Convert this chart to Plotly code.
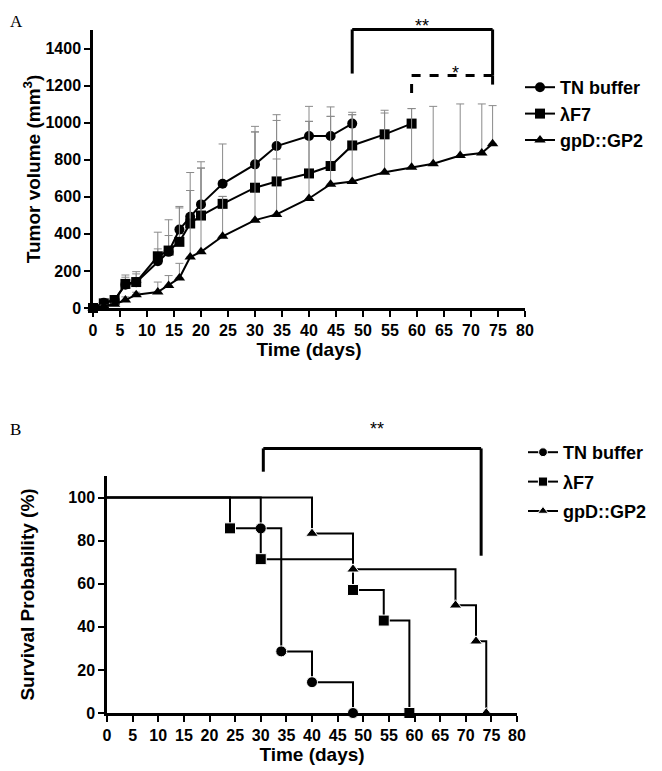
import plotly.graph_objects as go

# Panel A: tumor volume, mean with upper error bar (top of bar stored)
tn_days = [0, 2, 4, 6, 8, 12, 14, 16, 18, 20, 24, 30, 34, 40, 44, 48]
tn_vol = [0, 29, 43, 126, 139, 252, 303, 423, 492, 559, 670, 775, 874, 928, 928, 995]
tn_top = [0, 35, 50, 178, 184, 319, 391, 548, 634, 755, 885, 950, 1012, 1007, 1034, 1056]

f7_days = [0, 2, 4, 6, 8, 12, 14, 16, 18, 20, 24, 30, 34, 40, 44, 48, 54, 59]
f7_vol = [0, 25, 43, 130, 140, 279, 310, 357, 456, 499, 562, 649, 683, 726, 766, 877, 937, 995]
f7_top = [0, 30, 50, 166, 196, 409, 476, 540, 731, 789, 602, 980, 1043, 1088, 1085, 1043, 1067, 1076]

gp2_days = [0, 2, 4, 6, 8, 12, 14, 16, 18, 20, 24, 30, 34, 40, 44, 48, 54, 59, 63, 68, 72, 74]
gp2_vol = [0, 10, 20, 43, 72, 86, 122, 162, 275, 303, 387, 474, 505, 591, 668, 683, 733, 760, 778, 823, 836, 886]
gp2_top = [0, 15, 25, 60, 85, 140, 175, 241, 634, 755, 602, 950, 804, 1007, 1034, 1043, 1052, 1076, 1088, 1101, 1101, 1092]

# Panel B: Kaplan-Meier survival
tn_t = [0, 30, 34, 40, 48]
tn_s = [100, 85.7, 28.6, 14.3, 0]
f7_t = [0, 24, 30, 48, 54, 59]
f7_s = [100, 85.7, 71.4, 57.1, 42.9, 0]
gp2_t = [0, 40, 48, 68, 72, 74]
gp2_s = [100, 83.3, 66.7, 50, 33.3, 0]

names = ["TN buffer", "\u03bbF7", "gpD::GP2"]
symbols = ["circle", "square", "triangle-up"]

# the page body has an 8px margin, so the figure is shifted by that much
OFF = 8
W, H = 662 - OFF, 771 - OFF
FONT = "Liberation Sans, Arial, sans-serif"


def px_x(p):
    return (p - OFF) / W


def px_y(p):
    return 1 - (p - OFF) / H


top_dom = [px_y(308), px_y(30)]
bot_dom = [px_y(713), px_y(476)]
TOP_MAX, BOT_MAX = 1500, 110


def top_y(v):
    return top_dom[0] + v / TOP_MAX * (top_dom[1] - top_dom[0])


def bot_y(v):
    return bot_dom[0] + v / BOT_MAX * (bot_dom[1] - bot_dom[0])


fig = go.Figure()

for name, sym, d, v, t in zip(names, symbols,
                              [tn_days, f7_days, gp2_days],
                              [tn_vol, f7_vol, gp2_vol],
                              [tn_top, f7_top, gp2_top]):
    err = [b - a for a, b in zip(v, t)]
    fig.add_trace(go.Scatter(
        x=d, y=v, name=name, mode="lines+markers",
        line=dict(color="black", width=2),
        marker=dict(symbol=sym, size=10, color="black"),
        error_y=dict(type="data", symmetric=False, array=err,
                     arrayminus=[0] * len(err), color="#8a8a8a",
                     thickness=1, width=4),
        cliponaxis=False, xaxis="x", yaxis="y", legend="legend",
    ))

for name, sym, t, s in zip(names, symbols, [tn_t, f7_t, gp2_t], [tn_s, f7_s, gp2_s]):
    fig.add_trace(go.Scatter(
        x=t, y=s, name=name, mode="lines+markers",
        line=dict(color="black", width=2, shape="hv"),
        marker=dict(symbol=sym, size=[0] + [11] * (len(t) - 1), color="black", opacity=1),
        cliponaxis=False, xaxis="x2", yaxis="y2", legend="legend2",
        legendgroup=name,
    ))

axis_common = dict(
    showline=True, linecolor="black", linewidth=2.5,
    ticks="outside", ticklen=6, tickwidth=2, tickcolor="black",
    showgrid=False, zeroline=False, automargin=False,
    tickfont=dict(family=FONT, size=16, color="black", weight="bold"),
)
title_font = dict(family=FONT, size=19, color="black", weight="bold")

fig.update_layout(
    width=W, height=H,
    margin=dict(l=0, r=0, t=0, b=0, autoexpand=False),
    paper_bgcolor="white", plot_bgcolor="white",
    xaxis=dict(domain=[px_x(93), px_x(525)], range=[0, 80], dtick=5,
               anchor="y", title=dict(text="Time (days)", font=title_font, standoff=2),
               **axis_common),
    yaxis=dict(domain=top_dom, range=[0, TOP_MAX], dtick=200, anchor="x",
               title=dict(text="Tumor volume (mm<sup>3</sup>)", font=title_font, standoff=0),
               **axis_common),
    xaxis2=dict(domain=[px_x(107), px_x(517)], range=[0, 80], dtick=5,
                anchor="y2", title=dict(text="Time (days)", font=title_font, standoff=0),
                **axis_common),
    yaxis2=dict(domain=bot_dom, range=[0, BOT_MAX], dtick=20, anchor="x2",
                title=dict(text="Survival Probability (%)", font=title_font, standoff=29),
                **axis_common),
    legend=dict(x=px_x(520), y=px_y(69), xanchor="left", yanchor="top",
                font=dict(family=FONT, size=18, color="black", weight="bold"),
                bgcolor="rgba(0,0,0,0)"),
    legend2=dict(x=px_x(523), y=px_y(434), xanchor="left", yanchor="top",
                 traceorder="grouped", tracegroupgap=3,
                 font=dict(family=FONT, size=18, color="black", weight="bold"),
                 bgcolor="rgba(0,0,0,0)"),
    showlegend=True,
)

# significance brackets
solid = dict(color="black", width=3)
dashed = dict(color="black", width=3, dash="dash")
shapes = [
    # panel A, ** (TN buffer vs gpD::GP2)
    dict(type="line", xref="x", yref="paper", x0=48, x1=48, y0=top_y(1265), y1=top_y(1503), line=solid),
    dict(type="line", xref="x", yref="paper", x0=48, x1=74, y0=top_y(1503), y1=top_y(1503), line=solid),
    dict(type="line", xref="x", yref="paper", x0=74, x1=74, y0=top_y(1503), y1=top_y(1254), line=solid),
    # panel A, * (lambdaF7 vs gpD::GP2)
    dict(type="line", xref="x", yref="paper", x0=59, x1=59, y0=top_y(1160), y1=top_y(1254), line=dashed),
    dict(type="line", xref="x", yref="paper", x0=59, x1=74, y0=top_y(1254), y1=top_y(1254), line=dashed),
    dict(type="line", xref="x", yref="paper", x0=74, x1=74, y0=top_y(1254), y1=top_y(1182), line=dashed),
    # panel B, **
    dict(type="line", xref="x2", yref="paper", x0=30.5, x1=30.5, y0=bot_y(112), y1=bot_y(122.8), line=solid),
    dict(type="line", xref="x2", yref="paper", x0=30.5, x1=73, y0=bot_y(122.8), y1=bot_y(122.8), line=solid),
    dict(type="line", xref="x2", yref="paper", x0=73, x1=73, y0=bot_y(122.8), y1=bot_y(73), line=solid),
]
fig.update_layout(shapes=shapes)

star_font = dict(family=FONT, size=18, color="black")
fig.add_annotation(x=61, y=top_y(1584), xref="x", yref="paper", text="**",
                   showarrow=False, font=star_font)
fig.add_annotation(x=67.2, y=top_y(1331), xref="x", yref="paper", text="*",
                   showarrow=False, font=star_font)
fig.add_annotation(x=52.7, y=bot_y(132), xref="x2", yref="paper", text="**",
                   showarrow=False, font=star_font)

panel_font = dict(family="Liberation Serif, Times New Roman, serif", size=17, color="black")
fig.add_annotation(x=px_x(OFF), y=px_y(10), xref="paper", yref="paper", text="A",
                   xanchor="left", yanchor="top", showarrow=False, font=panel_font)
fig.add_annotation(x=px_x(OFF), y=px_y(418), xref="paper", yref="paper", text="B",
                   xanchor="left", yanchor="top", showarrow=False, font=panel_font)

fig.write_html("out.html")
